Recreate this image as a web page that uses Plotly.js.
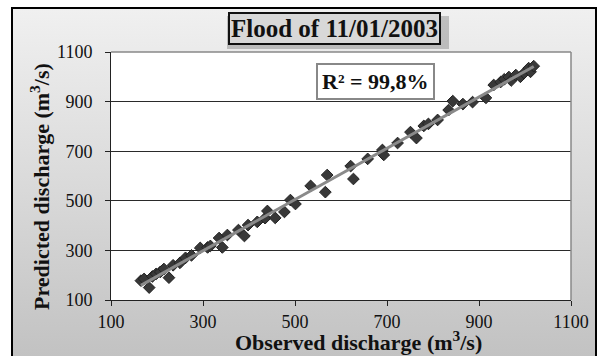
<!DOCTYPE html>
<html><head><meta charset="utf-8">
<script src="https://cdn.plot.ly/plotly-3.0.1.min.js"></script>
<style>
html,body{margin:0;padding:0;background:#fff;}
#frame{position:absolute;left:11px;top:7px;width:586px;height:352px;border:2px solid #000;box-sizing:border-box;
background:linear-gradient(to bottom,#f0f0f0 0%,#dadada 50%,#c2c2c2 100%);}
#chart{position:absolute;left:0;top:0;width:606px;height:356px;}
</style></head>
<body>
<div id="frame"></div>
<div id="chart"></div>
<script>
const observed = [165,172,183,190,198,207,215,226,235,250,262,275,294,310,316,335,342,353,377,390,398,418,435,440,457,477,490,501,534,566,570,621,627,658,690,693,723,751,764,780,790,810,834,843,865,886,915,932,947,955,965,970,980,990,998,1008,1012,1019];
const predicted = [178,185,150,195,205,213,225,190,240,250,270,280,310,312,318,350,312,362,382,358,402,415,430,459,431,455,503,487,560,535,604,640,588,669,705,685,733,777,753,802,810,826,866,902,890,898,915,967,979,990,999,985,1007,1000,1015,1035,1020,1043];
const xTicks = [100,300,500,700,900,1100];
const yTicks = [100,300,500,700,900,1100];
const titleText = "Flood of 11/01/2003";
const r2Text = "R² = 99,8%";
const xTitle = "Observed discharge (m<sup>3</sup>/s)";
const yTitle = "Predicted discharge (m<sup>3</sup>/s)";

// least-squares trend line
const n = observed.length;
const mx = observed.reduce((a,b)=>a+b,0)/n, my = predicted.reduce((a,b)=>a+b,0)/n;
let sxy=0,sxx=0;
for(let i=0;i<n;i++){sxy+=(observed[i]-mx)*(predicted[i]-my);sxx+=(observed[i]-mx)**2;}
const slope=sxy/sxx, icpt=my-slope*mx;
const xmin=Math.min(...observed), xmax=Math.max(...observed);
const trendX=[xmin,xmax], trendY=trendX.map(v=>icpt+slope*v);

const serif = '"Liberation Serif", "Times New Roman", serif';
const px = v => (v-111)/460, py = v => (300-v)/248;
const data = [
 {x:observed,y:predicted,mode:'markers',type:'scatter',
  marker:{symbol:'diamond',size:9,color:'#383838',line:{color:'#222',width:1}},hoverinfo:'skip'},
 {x:trendX,y:trendY,mode:'lines',type:'scatter',line:{color:'#8a8a8a',width:3},hoverinfo:'skip'}
];
const layout = {
 width:606,height:356,
 margin:{l:111,r:35,t:52,b:56},
 paper_bgcolor:'rgba(0,0,0,0)',plot_bgcolor:'#fff',
 showlegend:false,
 font:{family:serif,color:'#111'},
 xaxis:{range:[100,1100],tickvals:xTicks,ticktext:xTicks.map(String),showgrid:false,zeroline:false,
  showline:true,linecolor:'#222',linewidth:1,ticks:'outside',ticklen:5,tickcolor:'#222',
  tickfont:{size:18,family:serif,color:'#111'}},
 yaxis:{range:[100,1100],tickvals:yTicks,ticktext:yTicks.map(String),showgrid:true,gridcolor:'#2a2a2a',gridwidth:1,zeroline:false,
  showline:true,linecolor:'#222',linewidth:1,ticks:'outside',ticklen:5,tickcolor:'#222',ticklabelstandoff:9,
  tickfont:{size:18,family:serif,color:'#111'}},
 shapes:[
  {type:'line',xref:'paper',yref:'paper',x0:0,x1:1,y0:1,y1:1,line:{color:'#888',width:1.5}},
  {type:'line',xref:'paper',yref:'paper',x0:1,x1:1,y0:0,y1:1,line:{color:'#888',width:1.5}},
  {type:'rect',xref:'paper',yref:'paper',x0:px(227),x1:px(449),y0:py(49),y1:py(16),
   fillcolor:'rgba(0,0,0,0.2)',line:{width:0},layer:'above'}
 ],
 annotations:[
  {text:'<b>'+titleText+'</b>',xref:'paper',yref:'paper',x:px(334),y:py(28.5),showarrow:false,
   font:{size:25,family:serif,color:'#111'},bgcolor:'#d8d8d8',bordercolor:'#111',borderwidth:2,borderpad:1,
   xanchor:'center',yanchor:'middle'},
  {text:'<b>'+r2Text+'</b>',xref:'paper',yref:'paper',x:px(375.5),y:py(81.5),showarrow:false,
   font:{size:22,family:serif,color:'#111'},bgcolor:'#fff',bordercolor:'#888',borderwidth:2,borderpad:4,
   xanchor:'center',yanchor:'middle'},
  {text:'<b>'+xTitle+'</b>',xref:'paper',yref:'paper',x:px(358),y:py(341),showarrow:false,
   font:{size:22,family:serif,color:'#111'},xanchor:'center',yanchor:'middle'},
  {text:'<b>'+yTitle+'</b>',xref:'paper',yref:'paper',x:px(40),y:py(187),showarrow:false,textangle:-90,
   font:{size:22,family:serif,color:'#111'},xanchor:'center',yanchor:'middle'}
 ]
};
Plotly.newPlot('chart',data,layout,{displayModeBar:false,staticPlot:true});
</script>
</body></html>
